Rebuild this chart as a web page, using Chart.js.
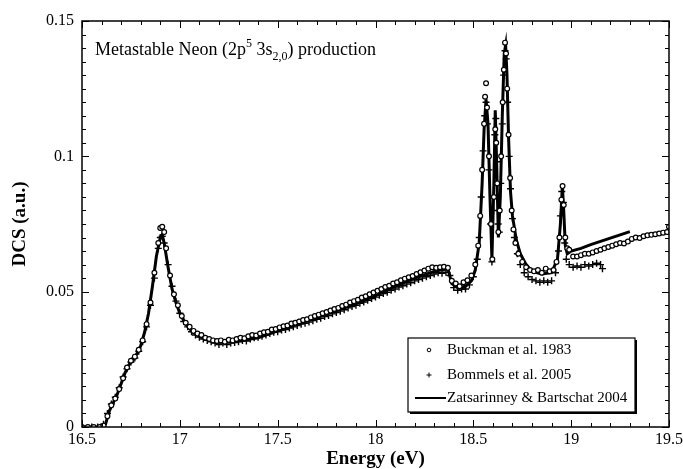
<!DOCTYPE html>
<html>
<head>
<meta charset="utf-8">
<script src="https://cdn.jsdelivr.net/npm/chart.js@4/dist/chart.umd.min.js"></script>
<style>
  html, body { margin: 0; padding: 0; background: #fff; }
  #wrap { width: 683px; height: 469px; }
</style>
</head>
<body>
<div id="wrap"><canvas id="chart" width="683" height="469"></canvas></div>
<script>
// Metastable neon production, DCS vs incident energy

const xTicks = [16.5, 17, 17.5, 18, 18.5, 19, 19.5];
const yTicks = [0, 0.05, 0.1, 0.15];

// Buckman et al. 1983 (open circles)
const buckmanEnergy = [
  16.50, 16.53, 16.56, 16.59, 16.61, 16.63, 16.65, 16.67, 16.69, 16.71,
  16.73, 16.75, 16.77, 16.79, 16.81, 16.83, 16.85, 16.87, 16.89, 16.90,
  16.91, 16.92, 16.93, 16.95, 16.97, 16.99, 17.01, 17.03, 17.05, 17.07,
  17.09, 17.11, 17.13, 17.15, 17.17, 17.19, 17.21, 17.23, 17.25, 17.27,
  17.29, 17.31, 17.33, 17.35, 17.37, 17.39, 17.41, 17.43, 17.45, 17.47,
  17.49, 17.51, 17.53, 17.55, 17.57, 17.59, 17.61, 17.63, 17.65, 17.67,
  17.69, 17.71, 17.73, 17.75, 17.77, 17.79, 17.81, 17.83, 17.85, 17.87,
  17.89, 17.91, 17.93, 17.95, 17.97, 17.99, 18.01, 18.03, 18.05, 18.07,
  18.09, 18.11, 18.13, 18.15, 18.17, 18.19, 18.21, 18.23, 18.25, 18.27,
  18.29, 18.31, 18.33, 18.35, 18.37, 18.39, 18.41, 18.43, 18.45, 18.47,
  18.49, 18.51, 18.525, 18.535, 18.545, 18.555, 18.56, 18.565, 18.57, 18.58,
  18.59, 18.597, 18.605, 18.612, 18.617, 18.622, 18.628, 18.635, 18.642, 18.65,
  18.656, 18.662, 18.667, 18.673, 18.68, 18.688, 18.696, 18.705, 18.715, 18.73,
  18.75, 18.77, 18.79, 18.81, 18.83, 18.85, 18.87, 18.89, 18.91, 18.925,
  18.94, 18.95, 18.956, 18.962, 18.97, 18.98, 18.99, 19.01, 19.03, 19.05,
  19.07, 19.09, 19.11, 19.13, 19.15, 19.17, 19.19, 19.21, 19.23, 19.25,
  19.27, 19.29, 19.31, 19.33, 19.35, 19.37, 19.39, 19.41, 19.43, 19.45,
  19.47, 19.49, 19.50
];
const buckmanDcs = [
  0, 0, 0, 0, 0.0005, 0.004, 0.008, 0.0105, 0.014, 0.018,
  0.022, 0.0245, 0.026, 0.0285, 0.032, 0.038, 0.046, 0.057, 0.068, 0.0735,
  0.074, 0.072, 0.066, 0.056, 0.049, 0.045, 0.041, 0.0385, 0.037, 0.0355,
  0.0345, 0.034, 0.033, 0.0325, 0.032, 0.0318, 0.032, 0.0315, 0.0322, 0.032,
  0.0325, 0.033, 0.0328, 0.0335, 0.034, 0.0338, 0.0345, 0.035, 0.0352, 0.036,
  0.0362, 0.0368, 0.0372, 0.0375, 0.0382, 0.0385, 0.039, 0.0395, 0.0398, 0.0405,
  0.041, 0.0415, 0.042, 0.0425, 0.043, 0.0436, 0.044, 0.0447, 0.0452, 0.046,
  0.0465, 0.047, 0.0478, 0.0483, 0.049, 0.0497, 0.0503, 0.051, 0.0517, 0.0522,
  0.053, 0.0535, 0.0542, 0.0548, 0.0553, 0.0558, 0.0565, 0.0572, 0.0578, 0.0585,
  0.059, 0.0588, 0.059, 0.0592, 0.0588, 0.054, 0.053, 0.052, 0.0535, 0.0542,
  0.056, 0.06, 0.067, 0.078, 0.095, 0.112, 0.122, 0.127, 0.118, 0.1,
  0.075, 0.062, 0.085, 0.11, 0.105, 0.09, 0.072, 0.08, 0.1, 0.12,
  0.132, 0.142, 0.138, 0.125, 0.108, 0.092, 0.08, 0.073, 0.068, 0.064,
  0.061, 0.059, 0.058, 0.0575, 0.058, 0.057, 0.0585, 0.0575, 0.058, 0.061,
  0.07, 0.084, 0.089, 0.082, 0.07, 0.066, 0.0655, 0.063, 0.063, 0.0635,
  0.064, 0.064, 0.0645, 0.065, 0.0655, 0.066, 0.0665, 0.067, 0.0675, 0.068,
  0.0678, 0.0685, 0.0695, 0.07, 0.0698, 0.0705, 0.0708, 0.071, 0.0712, 0.0715,
  0.0718, 0.072, 0.074
];

// Bommels et al. 2005 (crosses)
const bommelsEnergy = [
  16.55, 16.58, 16.61, 16.63, 16.65, 16.67, 16.69, 16.71, 16.73, 16.75,
  16.77, 16.79, 16.81, 16.83, 16.85, 16.87, 16.89, 16.90, 16.91, 16.92,
  16.94, 16.96, 16.98, 17.00, 17.02, 17.04, 17.06, 17.08, 17.10, 17.12,
  17.14, 17.16, 17.18, 17.20, 17.22, 17.24, 17.26, 17.28, 17.30, 17.32,
  17.34, 17.36, 17.38, 17.40, 17.42, 17.44, 17.46, 17.48, 17.50, 17.52,
  17.54, 17.56, 17.58, 17.60, 17.62, 17.64, 17.66, 17.68, 17.70, 17.72,
  17.74, 17.76, 17.78, 17.80, 17.82, 17.84, 17.86, 17.88, 17.90, 17.92,
  17.94, 17.96, 17.98, 18.00, 18.02, 18.04, 18.06, 18.08, 18.10, 18.12,
  18.14, 18.16, 18.18, 18.20, 18.22, 18.24, 18.26, 18.28, 18.30, 18.32,
  18.34, 18.36, 18.38, 18.40, 18.42, 18.44, 18.46, 18.48, 18.50, 18.52,
  18.53, 18.54, 18.55, 18.558, 18.565, 18.572, 18.58, 18.588, 18.595, 18.603,
  18.61, 18.615, 18.62, 18.627, 18.633, 18.64, 18.648, 18.655, 18.662, 18.668,
  18.675, 18.683, 18.69, 18.70, 18.71, 18.725, 18.74, 18.76, 18.78, 18.80,
  18.82, 18.84, 18.86, 18.88, 18.90, 18.92, 18.935, 18.945, 18.952, 18.96,
  18.967, 18.975, 18.99, 19.01, 19.03, 19.05, 19.07, 19.09, 19.11, 19.13,
  19.15, 19.16
];
const bommelsDcs = [
  0, 0, 0.001, 0.005, 0.0085, 0.011, 0.0145, 0.0185, 0.0215, 0.024,
  0.0255, 0.028, 0.0315, 0.037, 0.045, 0.055, 0.066, 0.07, 0.0705, 0.068,
  0.06, 0.052, 0.0465, 0.042, 0.039, 0.037, 0.0352, 0.034, 0.0332, 0.0325,
  0.032, 0.0315, 0.031, 0.0305, 0.031, 0.0305, 0.031, 0.0312, 0.0315, 0.032,
  0.0318, 0.0325, 0.033, 0.0332, 0.0335, 0.034, 0.0345, 0.035, 0.0352, 0.0358,
  0.036, 0.0366, 0.037, 0.0375, 0.038, 0.0383, 0.0388, 0.0393, 0.0398, 0.0402,
  0.0408, 0.0412, 0.0418, 0.0423, 0.0428, 0.0433, 0.044, 0.0445, 0.045, 0.0457,
  0.0462, 0.0468, 0.0475, 0.048, 0.0487, 0.0493, 0.0498, 0.0505, 0.051, 0.0517,
  0.0522, 0.0528, 0.0533, 0.054, 0.0545, 0.055, 0.0555, 0.056, 0.0565, 0.057,
  0.0568, 0.0572, 0.056, 0.0515, 0.0505, 0.051, 0.051, 0.0525, 0.0555, 0.062,
  0.07, 0.085, 0.102, 0.115, 0.12, 0.112, 0.095, 0.075, 0.061, 0.08,
  0.108, 0.114, 0.098, 0.075, 0.072, 0.09, 0.112, 0.13, 0.139, 0.136,
  0.12, 0.1, 0.088, 0.077, 0.07, 0.064, 0.06, 0.057, 0.0555, 0.0545,
  0.054, 0.0535, 0.054, 0.0535, 0.054, 0.057, 0.065, 0.078, 0.087, 0.083,
  0.068, 0.062, 0.06, 0.059, 0.0595, 0.059, 0.06, 0.0595, 0.06, 0.0605,
  0.06, 0.0585
];

// Zatsarinney & Bartschat 2004 (theory, solid line)
const theoryEnergy = [
  16.50, 16.60, 16.62, 16.64, 16.66, 16.68, 16.70, 16.72, 16.74, 16.76,
  16.78, 16.80, 16.82, 16.84, 16.86, 16.88, 16.90, 16.91, 16.92, 16.94,
  16.96, 16.98, 17.00, 17.03, 17.06, 17.10, 17.15, 17.20, 17.30, 17.40,
  17.50, 17.60, 17.70, 17.80, 17.90, 18.00, 18.10, 18.20, 18.30, 18.37,
  18.39, 18.42, 18.46, 18.49, 18.51, 18.53, 18.545, 18.555, 18.565, 18.575,
  18.585, 18.595, 18.605, 18.612, 18.62, 18.628, 18.638, 18.648, 18.658, 18.665,
  18.672, 18.68, 18.69, 18.70, 18.72, 18.74, 18.77, 18.80, 18.85, 18.90,
  18.93, 18.945, 18.955, 18.962, 18.97, 18.98, 19.00, 19.05, 19.10, 19.15,
  19.20, 19.25, 19.30
];
const theoryDcs = [
  0, 0, 0.001, 0.006, 0.009, 0.012, 0.016, 0.020, 0.023, 0.025,
  0.027, 0.030, 0.035, 0.042, 0.052, 0.063, 0.070, 0.071, 0.068, 0.059,
  0.051, 0.046, 0.042, 0.038, 0.0355, 0.0335, 0.0322, 0.0315, 0.0318, 0.033,
  0.0355, 0.038, 0.0405, 0.043, 0.0455, 0.0485, 0.052, 0.055, 0.0575, 0.0585,
  0.053, 0.0515, 0.052, 0.054, 0.058, 0.068, 0.09, 0.11, 0.121, 0.112,
  0.085, 0.062, 0.09, 0.117, 0.095, 0.07, 0.085, 0.115, 0.138, 0.141,
  0.13, 0.107, 0.087, 0.078, 0.069, 0.064, 0.060, 0.0575, 0.0565, 0.057,
  0.062, 0.075, 0.089, 0.08, 0.067, 0.064, 0.065, 0.066, 0.0674, 0.0686,
  0.0698, 0.071, 0.0722
];

const SERIF = '"Liberation Serif", "Times New Roman", serif';

function toPoints(xs, ys) {
  return xs.map((x, i) => ({ x: x, y: ys[i] }));
}

// inward ticks on all four sides plus the plot frame
const frameTicks = {
  id: 'frameTicks',
  afterDatasetsDraw(chart) {
    const { ctx, chartArea: a, scales: { x, y } } = chart;
    ctx.save();
    ctx.strokeStyle = '#000';
    ctx.lineWidth = 1;
    ctx.beginPath();
    for (let i = 0; i <= 30; i++) {
      const px = Math.round(x.getPixelForValue(16.5 + i * 0.1)) + 0.5;
      const len = i % 5 === 0 ? 7 : 4;
      ctx.moveTo(px, a.bottom); ctx.lineTo(px, a.bottom - len);
      ctx.moveTo(px, a.top); ctx.lineTo(px, a.top + len);
    }
    for (let j = 0; j <= 30; j++) {
      const py = Math.round(y.getPixelForValue(j * 0.005)) + 0.5;
      const len = j % 10 === 0 ? 7 : 4;
      ctx.moveTo(a.left, py); ctx.lineTo(a.left + len, py);
      ctx.moveTo(a.right, py); ctx.lineTo(a.right - len, py);
    }
    ctx.stroke();
    ctx.lineWidth = 1.5;
    ctx.strokeRect(a.left, a.top, a.right - a.left, a.bottom - a.top);
    ctx.restore();
  }
};

// title line with super/subscripts inside the plot
const annotation = {
  id: 'annotation',
  afterDraw(chart) {
    const ctx = chart.ctx;
    const parts = [
      ['Metastable Neon (2p', 0], ['5', -1], [' 3s', 0], ['2,0', 1], [') production', 0]
    ];
    let x = 95;
    const base = 55;
    ctx.save();
    ctx.fillStyle = '#000';
    ctx.textBaseline = 'alphabetic';
    parts.forEach(([t, k]) => {
      ctx.font = (k === 0 ? 18 : 12) + 'px ' + SERIF;
      const dy = k === -1 ? -8 : k === 1 ? 5 : 0;
      ctx.fillText(t, x, base + dy);
      x += ctx.measureText(t).width;
    });
    ctx.restore();
  }
};

// boxed legend with drop shadow, lower right of the plot
const boxLegend = {
  id: 'boxLegend',
  afterDraw(chart) {
    const ctx = chart.ctx;
    const bx = 408, by = 338, bw = 227, bh = 74;
    ctx.save();
    ctx.fillStyle = '#000';
    ctx.fillRect(bx + 2, by + 2, bw, bh);
    ctx.fillStyle = '#fff';
    ctx.fillRect(bx, by, bw, bh);
    ctx.strokeStyle = '#000';
    ctx.lineWidth = 1.2;
    ctx.strokeRect(bx, by, bw, bh);

    const rows = [by + 12, by + 37, by + 60];
    const ds = chart.data.datasets;
    ctx.lineWidth = 1;
    ctx.beginPath();
    ctx.arc(429, rows[0], 1.8, 0, Math.PI * 2);
    ctx.stroke();
    ctx.beginPath();
    ctx.moveTo(426.5, rows[1]); ctx.lineTo(431.5, rows[1]);
    ctx.moveTo(429, rows[1] - 2.5); ctx.lineTo(429, rows[1] + 2.5);
    ctx.stroke();
    ctx.lineWidth = 2;
    ctx.beginPath();
    ctx.moveTo(415, rows[2]); ctx.lineTo(446, rows[2]);
    ctx.stroke();

    ctx.fillStyle = '#000';
    ctx.font = '15px ' + SERIF;
    ctx.textBaseline = 'middle';
    ds.forEach((d, i) => ctx.fillText(d.label, 447, rows[i]));
    ctx.restore();
  }
};

new Chart(document.getElementById('chart'), {
  type: 'scatter',
  data: {
    datasets: [
      {
        label: 'Buckman et al. 1983',
        data: toPoints(buckmanEnergy, buckmanDcs),
        pointStyle: 'circle',
        pointRadius: 2.4,
        borderWidth: 1.2,
        borderColor: '#000',
        backgroundColor: '#fff'
      },
      {
        label: 'Bommels et al. 2005',
        data: toPoints(bommelsEnergy, bommelsDcs),
        pointStyle: 'cross',
        pointRadius: 3.5,
        borderWidth: 1.4,
        borderColor: '#000',
        backgroundColor: '#000'
      },
      {
        label: 'Zatsarinney & Bartschat 2004',
        data: toPoints(theoryEnergy, theoryDcs),
        showLine: true,
        pointRadius: 0,
        borderWidth: 3,
        borderColor: '#000',
        tension: 0
      }
    ]
  },
  options: {
    responsive: false,
    animation: false,
    layout: { padding: { left: 0, right: 0, top: 21, bottom: 0 } },
    plugins: { legend: { display: false }, tooltip: { enabled: false } },
    scales: {
      x: {
        type: 'linear',
        min: 16.5,
        max: 19.5,
        grid: { display: false, drawTicks: false },
        border: { display: false },
        afterBuildTicks: s => { s.ticks = xTicks.map(v => ({ value: v })); },
        afterFit: s => { s.height = 42; s.paddingRight = 14; },
        ticks: {
          padding: 3,
          color: '#000',
          font: { family: SERIF, size: 16 },
          maxRotation: 0,
          callback: v => String(v)
        },
        title: {
          display: true,
          text: 'Energy (eV)',
          color: '#000',
          font: { family: SERIF, size: 19, weight: 'bold' },
          padding: { top: 0, bottom: -1 }
        }
      },
      y: {
        min: 0,
        max: 0.15,
        grid: { display: false, drawTicks: false },
        border: { display: false },
        afterBuildTicks: s => { s.ticks = yTicks.map(v => ({ value: v })); },
        afterFit: s => { s.width = 82; },
        ticks: {
          padding: 8,
          color: '#000',
          font: { family: SERIF, size: 16 },
          callback: v => String(v)
        },
        title: {
          display: true,
          text: 'DCS (a.u.)',
          color: '#000',
          font: { family: SERIF, size: 19, weight: 'bold' },
          padding: { top: 9, bottom: 0 }
        }
      }
    }
  },
  plugins: [frameTicks, annotation, boxLegend]
});
</script>
</body>
</html>
